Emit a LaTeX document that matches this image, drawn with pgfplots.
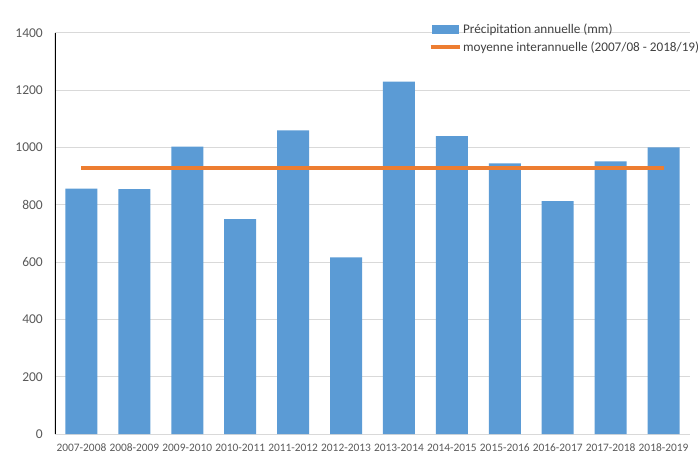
\documentclass[border=0pt]{standalone}
\usepackage{fontspec}
\setmainfont{Carlito}
\usepackage{pgfplots}
\pgfplotsset{compat=1.18}
\definecolor{barblue}{HTML}{5B9BD5}
\definecolor{avgorange}{HTML}{ED7D31}
\definecolor{gridgray}{HTML}{D9D9D9}
\definecolor{txtgray}{HTML}{595959}
\definecolor{legtxt}{HTML}{404040}
\begin{document}
\begin{tikzpicture}
\useasboundingbox (-55pt,-26pt) rectangle (643pt,434pt);
\begin{axis}[
  scale only axis, width=635pt, height=401pt,
  at={(0pt,0pt)}, anchor=south west,
  xmin=-0.5, xmax=11.5, ymin=0, ymax=1400,
  ytick={0,200,...,1400},
  xtick={0,...,11},
  xticklabels={2007-2008,2008-2009,2009-2010,2010-2011,2011-2012,2012-2013,2013-2014,2014-2015,2015-2016,2016-2017,2017-2018,2018-2019},
  axis line style={draw=none},
  major tick length=0pt,
  ymajorgrids, grid style={gridgray, line width=1pt},
  /pgf/number format/assume math mode=true,
  /pgf/number format/1000 sep={},
  yticklabel style={font=\fontsize{13.5}{15}\selectfont, text=txtgray, inner sep=0pt, xshift=-12pt},
  xticklabel style={font=\fontsize{11.4}{13}\selectfont, text=txtgray, inner sep=0pt, yshift=-10pt},
  legend cell align=left,
  legend style={draw=none, fill=none, at={(0.588,1.028)}, anchor=north west,
    font=\fontsize{13.2}{15}\selectfont, text=legtxt, row sep=4pt, inner sep=0pt,
    nodes={inner sep=1.5pt}},
]
\addplot[ybar, bar width=32pt, fill=barblue, draw=none,
  legend image code/.code={\fill[barblue] (0pt,-4.5pt) rectangle (27pt,4.5pt);}]
  coordinates {(0,857) (1,855) (2,1003) (3,750) (4,1060) (5,617) (6,1230) (7,1040) (8,945) (9,813) (10,952) (11,1001)};
\addlegendentry{Précipitation annuelle (mm)}
\addplot[avgorange, line width=4pt, sharp plot, mark=none,
  legend image code/.code={\draw[avgorange, line width=4pt] (-1pt,0pt) -- (28pt,0pt);}]
  coordinates {(0,927) (11,927)};
\addlegendentry{moyenne interannuelle (2007/08 - 2018/19)}
\draw[black, line width=1.2pt] (rel axis cs:0,0) -- (rel axis cs:0,1);
\end{axis}
\end{tikzpicture}
\end{document}
